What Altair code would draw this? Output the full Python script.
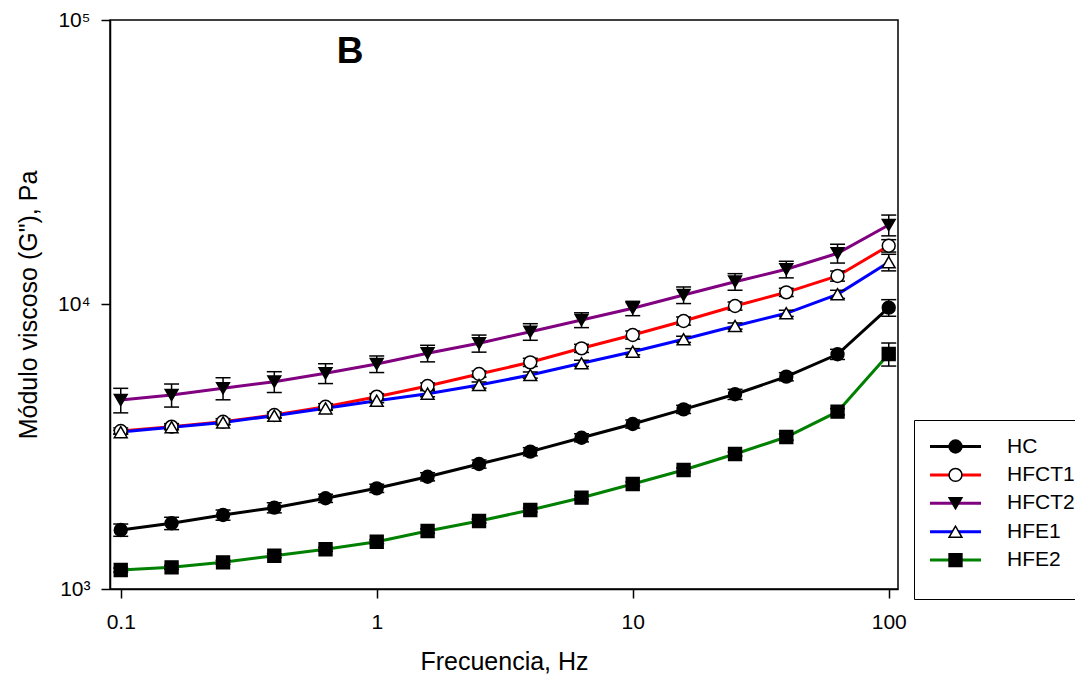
import altair as alt
import pandas as pd

# ---- data ----
freq = [0.1, 0.158, 0.251, 0.398, 0.631, 1.0, 1.58, 2.51, 3.98, 6.31,
        10.0, 15.8, 25.1, 39.8, 63.1, 100.0]

series_names = ["HC", "HFCT1", "HFCT2", "HFE1", "HFE2"]
line_colors = ["#000000", "#FF0000", "#800080", "#0000FF", "#008000"]
marker_shapes = ["circle", "circle", "triangle-down", "triangle-up", "square"]
marker_fills = ["#000000", "#FFFFFF", "#000000", "#FFFFFF", "#000000"]
marker_strokes = ["#000000", "#000000", "#000000", "#000000", "#000000"]

hc = [1612, 1702, 1820, 1931, 2084, 2259, 2481, 2750, 3039, 3402,
      3802, 4281, 4835, 5575, 6683, 9745]
hfct1 = [3593, 3720, 3873, 4088, 4373, 4742, 5171, 5697, 6263, 7015,
         7811, 8750, 9879, 11037, 12596, 16094]
hfct2 = [4617, 4807, 5076, 5355, 5732, 6179, 6737, 7304, 8023, 8822,
         9697, 10800, 12028, 13296, 15136, 19026]
hfe1 = [3560, 3705, 3850, 4066, 4316, 4590, 4859, 5212, 5651, 6213,
        6826, 7546, 8403, 9313, 10862, 14070]
hfe2 = [1166, 1192, 1241, 1309, 1379, 1466, 1599, 1734, 1895, 2094,
        2340, 2620, 2982, 3422, 4200, 6699]

hc_err = [80, 85, 75, 79, 69, 75, 82, 91, 100, 112, 125, 141, 198, 184, 274, 653]
hfct1_err = [90, 93, 97, 102, 109, 119, 129, 142, 207, 231, 258, 289, 326, 364, 516, 805]
hfct2_err = [457, 447, 452, 450, 459, 414, 451, 504, 538, 529, 562, 724, 806, 891, 1150, 1598]
hfe1_err = [57, 60, 62, 65, 69, 73, 121, 130, 141, 155, 171, 189, 210, 233, 358, 943]
hfe2_err = [19, 19, 20, 21, 22, 23, 26, 28, 30, 34, 37, 42, 48, 85, 105, 623]

x_ticks = [0.1, 1, 10, 100]
y_ticks = [1000, 10000, 100000]
y_tick_labels = ["10³", "10⁴", "10⁵"]
panel_label = "B"
x_title = "Frecuencia, Hz"
y_title = 'Módulo viscoso (G"), Pa'

values = [hc, hfct1, hfct2, hfe1, hfe2]
errors = [hc_err, hfct1_err, hfct2_err, hfe1_err, hfe2_err]

rows = []
for name, vals, errs in zip(series_names, values, errors):
    for f, v, e in zip(freq, vals, errs):
        rows.append({"serie": name, "grupo": name, "freq": f, "g2": v,
                     "lo": v - e, "hi": v + e})
df = pd.DataFrame(rows)

annot = pd.DataFrame({"txt": [panel_label], "freq": [0.787], "g2": [70600]})

FONT = "Liberation Sans"

# label expression for y (superscript powers of ten)
expr = "''"
for v, lab in reversed(list(zip(y_ticks, y_tick_labels))):
    expr = f"(abs(datum.value - {v}) < 1 ? '{lab}' : {expr})"

x_scale = alt.Scale(type="log", domain=[0.0908, 108.7], nice=False)
y_scale = alt.Scale(type="log", domain=[1000, 100000], nice=False)
x_axis = alt.Axis(values=x_ticks, format="~g", title=x_title,
                  labelPadding=13, titlePadding=17)
y_axis = alt.Axis(values=y_ticks, labelExpr=expr, title=y_title,
                  labelPadding=11, titlePadding=16)


def X(field="freq"):
    return alt.X(f"{field}:Q", scale=x_scale, axis=x_axis, title=x_title)


def Y(field):
    return alt.Y(f"{field}:Q", scale=y_scale, axis=y_axis, title=y_title)


LEG_X = 804
LEG_Y = 400
MARK_SIZE = 165

legend_lines = alt.Legend(
    orient="none", legendX=LEG_X, legendY=LEG_Y, title=" ",
    titleOrient="bottom", titleFontSize=8, titlePadding=5,
    padding=16, strokeColor="black",
    symbolType="M-5,0H5", symbolSize=104, symbolStrokeWidth=3,
    symbolOffset=15, labelOffset=41,
    labelFont=FONT, labelFontSize=21, labelColor="black",
    rowPadding=6.4,
)
legend_marks = alt.Legend(
    orient="none", legendX=LEG_X, legendY=LEG_Y, title=None,
    padding=16,
    symbolSize=MARK_SIZE, symbolStrokeWidth=1.5, symbolOpacity=1,
    symbolOffset=15, labelOffset=41,
    labelFont=FONT, labelFontSize=21, labelOpacity=0,
    rowPadding=6.4,
)

base = alt.Chart(df)

lines = base.mark_line(strokeWidth=3).encode(
    x=X(), y=Y("g2"),
    color=alt.Color("serie:N",
                    scale=alt.Scale(domain=series_names, range=line_colors),
                    legend=legend_lines),
)

bars = base.mark_rule(color="black", strokeWidth=1.5).encode(
    x=X(), y=Y("lo"), y2="hi:Q",
)
caps_lo = base.mark_tick(orient="horizontal", size=15, thickness=1.5,
                         color="black", opacity=1).encode(x=X(), y=Y("lo"))
caps_hi = base.mark_tick(orient="horizontal", size=15, thickness=1.5,
                         color="black", opacity=1).encode(x=X(), y=Y("hi"))

points = base.mark_point(filled=True, size=MARK_SIZE,
                         strokeWidth=1.5, opacity=1, fillOpacity=1).encode(
    x=X(), y=Y("g2"),
    shape=alt.Shape("grupo:N", scale=alt.Scale(range=marker_shapes),
                    legend=legend_marks),
    fill=alt.Fill("grupo:N", scale=alt.Scale(range=marker_fills),
                  legend=legend_marks),
    stroke=alt.Stroke("grupo:N", scale=alt.Scale(range=marker_strokes),
                      legend=legend_marks),
)

label = alt.Chart(annot).mark_text(
    font=FONT, fontSize=37, fontWeight="bold", color="black",
    align="center", baseline="alphabetic",
).encode(x=X(), y=Y("g2"), text="txt:N")

chart = alt.layer(lines, bars, caps_lo, caps_hi, points, label).properties(
    width=788, height=569,
    autosize=alt.AutoSizeParams(type="none"),
    padding={"left": 102, "top": 12, "right": 177, "bottom": 87},
).configure_view(
    stroke="black", strokeWidth=1.5,
).configure_axis(
    grid=False, domainColor="black", domainWidth=1.5,
    tickColor="black", tickWidth=1.5, tickSize=9,
    labelFont=FONT, labelFontSize=21, labelColor="black",
    titleFont=FONT, titleFontSize=25, titleFontWeight="normal",
    titleColor="black",
)

chart.save("out.html", embed_options={"renderer": "svg", "actions": False})
